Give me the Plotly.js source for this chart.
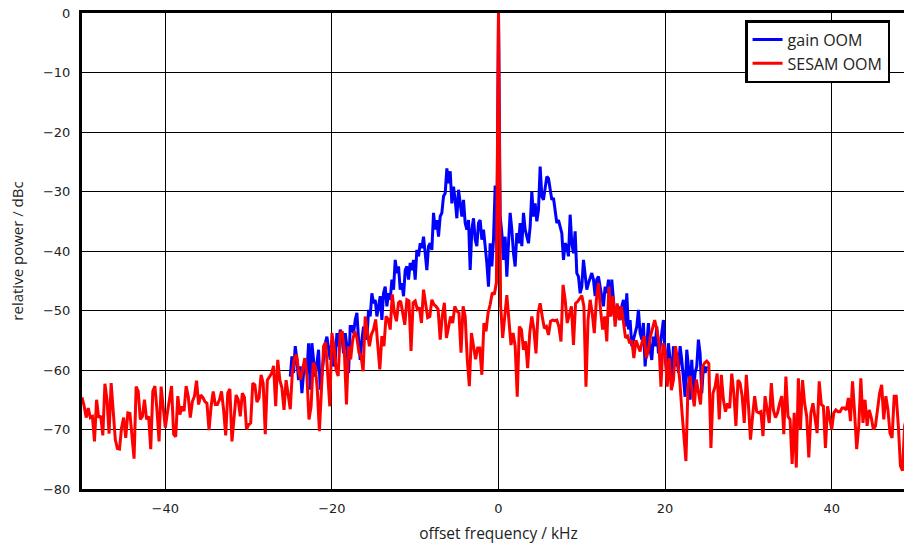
<!DOCTYPE html>
<html>
<head>
<meta charset="utf-8">
<script src="https://cdn.plot.ly/plotly-3.0.1.min.js"></script>
<style>
html,body{margin:0;padding:0;overflow:hidden;background:#fff;}
#chart{width:920px;height:544px;}
</style>
</head>
<body>
<div id="chart"></div>
<script>
// ---- data ----
var seriesNames = ["gain OOM", "SESAM OOM"];

// gain OOM: offset frequency grid start/step (kHz)
var gainStart = -25.0;
var gainStep = 0.2;
var gainValues = [
  -61.1,-57.7,-60.5,-56,-58.3,-61.7,-59.4,-63.9,-60.5,-58.3,
  -60.5,-55.5,-63.3,-55.5,-58.3,-61.1,-58.9,-56.6,-63.3,-60.5,
  -57.7,-55.5,-54.4,-56,-58.3,-54.9,-59.4,-58.3,-53.8,-56,
  -53.2,-54.4,-57.2,-53.8,-56,-60.5,-52.7,-52.7,-53.8,-51.6,
  -50.4,-54.9,-58.3,-54.9,-52.7,-53.8,-54.9,-49.9,-51,-47.1,
  -48.8,-48.2,-51,-49.3,-47.6,-51.6,-47.1,-46,-49.3,-47.1,
  -48.2,-44.8,-46.5,-41.5,-43.7,-42.6,-46.5,-45.4,-47.6,-43.2,
  -42.6,-44.8,-42,-43.2,-41.5,-44.8,-39.8,-40.9,-38.7,-39.5,
  -37.6,-40.4,-43.2,-39.2,-38.7,-39.8,-33.6,-36.4,-34.8,-37.6,
  -34.2,-33.6,-30.8,-30.3,-26.1,-28.6,-26.6,-32,-29.2,-31.4,
  -34.5,-29.7,-32.5,-34.2,-31.4,-35.3,-36.4,-34.8,-43.2,-36.4,
  -34.5,-38.1,-39.2,-35.3,-34.8,-38.1,-36.4,-38.7,-42,-46,
  -38.7,-42.6,-38.1,-29,-40,
  0,
  -34.2,-37,-41.5,-37.6,-44.3,-38.7,-33.6,-36.4,-40.4,-42.6,
  -37,-38.7,-35.3,-39.2,-33.6,-36.4,-37.6,-38.7,-35.9,-30,
  -34.2,-32,-35,-33.1,-25.8,-30.8,-31.4,-28.9,-27.5,-27.8,
  -29.7,-31.4,-31.1,-33.1,-35.3,-34.8,-35.9,-37,-41.5,-38.7,
  -39.2,-40.9,-33.9,-38.7,-40.4,-36.7,-43.7,-44.3,-47.1,-46,
  -41.5,-43.7,-46.5,-45.4,-44.3,-43.7,-44.8,-47.6,-44.8,-44.3,
  -46,-47.6,-49.3,-46,-47.1,-44.8,-51,-44.8,-47.6,-51.6,
  -49.9,-49.3,-51.6,-49.3,-48.2,-52.7,-47.1,-53.2,-51.6,-56,
  -54.9,-53.8,-52.7,-49.9,-53.8,-54.9,-52.1,-59.4,-54.9,-52.1,
  -56.6,-58.3,-54.4,-56,-52.7,-57.2,-56,-53.8,-51.6,-57.7,
  -60.5,-55.5,-58.3,-62.8,-56,-59.4,-57.2,-60.5,-56,-58.3,
  -61.1,-64.5,-56.6,-59.4,-65,-58.3,-63.9,-60.5,-59.4,-54.9,
  -57.2,-63.9,-59.4,-60.5,-59.4
];

// SESAM OOM: offset frequency grid start/step (kHz)
var sesamStart = -50.0;
var sesamStep = 0.25;
var sesamValues = [
  // -50 .. -25.5
  -64.6,-66,-68,-66.4,-68,-67.8,-72,-65,-68,-67.7,
  -71,-62.3,-65,-70.7,-62.2,-67.2,-71.7,-73.2,-73.3,-69.7,
  -68,-71.4,-67.2,-67.3,-70.6,-74.9,-62.8,-63.6,-68.3,-67.8,
  -65,-68.3,-67.8,-73.3,-63.6,-62.7,-66.7,-72,-62.8,-66.7,
  -69.7,-67.2,-64.9,-62.7,-70.8,-71.2,-64.4,-67.5,-66.1,-66.9,
  -62.7,-64.4,-68,-65.3,-64.4,-61.8,-65.8,-64.2,-64.6,-65.3,
  -65.6,-70.1,-66.1,-63.6,-65.8,-65.8,-65,-63.6,-66.7,-71,
  -63.9,-63.2,-72,-67.8,-64.2,-65,-67.8,-63.9,-64.6,-70,
  -69.2,-68.9,-62.2,-62.5,-65.4,-64.7,-60.8,-62.2,-70.8,-61.7,
  -61.1,-60.6,-59.3,-66.1,-58.3,-61.7,-63,-66.7,-61.7,
  // -25.25 .. -0.25
  -63.8,-66.6,-60.5,-58,-57.4,-60.2,-61.6,-59.4,-58,-61,
  -68.3,-66.1,-58.8,-59.4,-63.3,-70.3,-61.6,-56,-55.4,-60.5,
  -66.1,-53.8,-56,-59.9,-61,-53.8,-53.5,-57.1,-65.8,-56,
  -58.2,-54.9,-53.5,-54.6,-57.1,-57.7,-60.2,-51,-53.8,-56,
  -54,-53.2,-51.5,-55.4,-59.9,-54.3,-56,-51,-51.5,-53.2,
  -47.3,-50.4,-51.8,-48.7,-48.4,-50.4,-52.4,-48.2,-48.4,-56.8,
  -48.7,-48.4,-49.8,-49.5,-52.1,-46.5,-49,-51.2,-51,-48.2,
  -49,-49.3,-49.8,-54.9,-51,-48.7,-54.6,-52.9,-51,-52.1,
  -49.3,-50.1,-50.4,-57.1,-49.3,-51,-58.2,-62.7,-53.8,-56,
  -58.2,-56.3,-56.3,-60.8,-52.1,-53.5,-50.4,-49,-47,-47.3,
  -45.3,
  // 0
  0,
  // 0.25 .. 25
  -49,-54.6,-51,-47.4,-51.6,-55.8,-53.8,-56,-64.5,-52.7,
  -53.2,-56.6,-55.2,-59.7,-53.8,-51,-53.2,-57.2,-50.4,-48.8,
  -51,-53,-52.7,-54.1,-51.8,-51.6,-51.7,-51.6,-52.7,-55.2,
  -45.7,-48.2,-52.1,-50.4,-49.3,-55.8,-48.8,-48.5,-47.9,-47.5,
  -49.3,-62.8,-51.6,-48.2,-50.4,-53.8,-48.2,-45.4,-49.9,-53.2,
  -51,-55.2,-46,-51,-47.6,-52.7,-48.8,-51.6,-49.3,-51.6,
  -54.6,-54.3,-55.5,-55,-58,-55,-55.8,-56.9,-55.2,-54.3,
  -58,-56.6,-54.3,-53,-51.6,-53.2,-55.2,-62.8,-55.5,-56.6,
  -62.8,-58,-63.4,-61.7,-56,-58.3,-61.6,-66.6,-71.7,-75.3,
  -62.7,-61,-63.6,-66.1,-61.6,-63.8,-65.8,-59.4,-58.8,-58.5,
  // 25.25 .. 50
  -58.9,-73.1,-63.9,-62.8,-60.6,-68.3,-60.8,-65,-67,-65.6,
  -66.4,-60.6,-63.9,-69.4,-61.7,-62.2,-64.4,-68.9,-60.8,-65.8,
  -71.7,-67.8,-64.4,-67,-67.2,-67,-71.1,-64.4,-66.7,-68.9,
  -62.2,-66.7,-68,-67.2,-65.6,-64.4,-70.8,-61.1,-67.8,-68.3,
  -75.8,-67.2,-76.4,-61.4,-70,-61.7,-65.6,-67.8,-74.7,-67.2,
  -65.6,-68,-70.6,-61.9,-65.8,-66.1,-73.1,-66.1,-68,-70,
  -67.2,-66.7,-67,-67,-66.4,-66.4,-66.7,-64.7,-68.6,-61.9,
  -67.2,-73.3,-69.4,-61.4,-68.9,-65,-69.4,-66.7,-68,-70,
  -69.4,-66.1,-63.9,-62.5,-68.3,-64.4,-66.7,-70.6,-71.4,-64.4,
  -64.4,-69.4,-76.1,-76.9,-69.4,-68,-65,-70,-66,-67
];

var xTickVals = [-40, -20, 0, 20, 40];
var xTickText = ["\u221240", "\u221220", "0", "20", "40"];
var yTickVals = [-80, -70, -60, -50, -40, -30, -20, -10, 0];
var yTickText = ["\u221280", "\u221270", "\u221260", "\u221250", "\u221240", "\u221230", "\u221220", "\u221210", "0"];

// ---- chart ----
var FONT = "'Open Sans', 'DejaVu Sans', sans-serif";
var TICKFONT = {family: "'DejaVu Sans', sans-serif", size: 13, color: '#222'};
var traces = [
  {type: 'scatter', mode: 'lines', name: seriesNames[0],
   x0: gainStart, dx: gainStep, y: gainValues,
   line: {color: '#0000ff', width: 3}},
  {type: 'scatter', mode: 'lines', name: seriesNames[1],
   x0: sesamStart, dx: sesamStep, y: sesamValues,
   line: {color: '#ff0000', width: 3}}
];

var layout = {
  width: 920, height: 544,
  margin: {l: 82, r: 5, t: 13, b: 55},
  paper_bgcolor: '#ffffff', plot_bgcolor: '#ffffff',
  font: {family: FONT, size: 13, color: '#222'},
  showlegend: true,
  legend: {x: 0.796, xanchor: 'left', y: 0.985, yanchor: 'top',
           bgcolor: '#ffffff', bordercolor: '#000', borderwidth: 2.5,
           font: {family: FONT, size: 16, color: '#222'},
           tracegroupgap: 0},
  xaxis: {range: [-50, 50], tickvals: xTickVals, ticktext: xTickText, showgrid: true,
          gridcolor: '#000', gridwidth: 1, zeroline: false,
          showline: true, linecolor: '#000', linewidth: 3, mirror: true,
          ticks: 'inside', ticklen: 4, tickcolor: '#000',
          ticklabelstandoff: 5, tickfont: TICKFONT,
          title: {text: 'offset frequency / kHz', font: {family: FONT, size: 15.5, color: '#222'}, standoff: 15}},
  yaxis: {range: [-80, 0], tickvals: yTickVals, ticktext: yTickText, showgrid: true,
          gridcolor: '#000', gridwidth: 1, zeroline: false,
          showline: true, linecolor: '#000', linewidth: 3, mirror: true,
          ticks: 'inside', ticklen: 4, tickcolor: '#000',
          ticklabelstandoff: 6, tickfont: TICKFONT,
          title: {text: 'relative power / dBc', font: {family: FONT, size: 15, color: '#222'}, standoff: 16}}
};

Plotly.newPlot('chart', traces, layout, {displayModeBar: false, staticPlot: true});
</script>
</body>
</html>
